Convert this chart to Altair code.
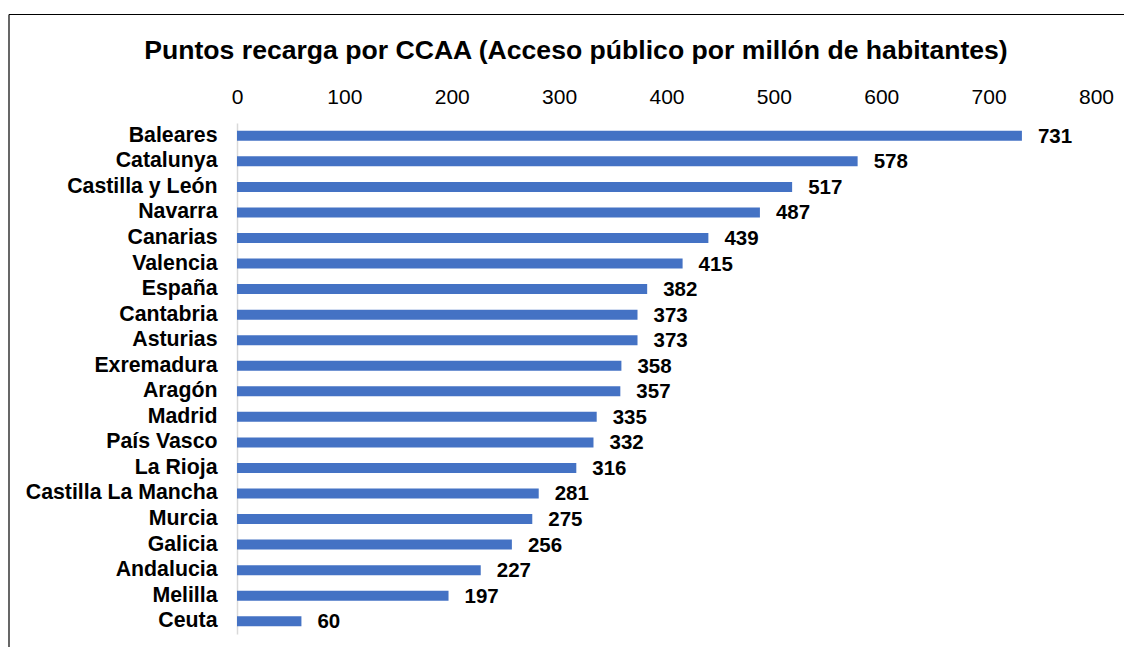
import altair as alt
import pandas as pd

regions = ["Baleares", "Catalunya", "Castilla y León", "Navarra", "Canarias",
           "Valencia", "España", "Cantabria", "Asturias", "Exremadura", "Aragón",
           "Madrid", "País Vasco", "La Rioja", "Castilla La Mancha", "Murcia",
           "Galicia", "Andalucia", "Melilla", "Ceuta"]
values = [731, 578, 517, 487, 439, 415, 382, 373, 373, 358, 357, 335, 332, 316,
          281, 275, 256, 227, 197, 60]
x_ticks = [0, 100, 200, 300, 400, 500, 600, 700, 800]
title_text = "Puntos recarga por CCAA (Acceso público por millón de habitantes)"

df = pd.DataFrame({"region": regions, "value": values})

FONT = "Liberation Sans"
W, H = 859, 511
PL, PT = 229, 115

y_enc = alt.Y("region:N", sort=regions, title=None,
              scale=alt.Scale(paddingInner=0, paddingOuter=0),
              axis=alt.Axis(ticks=False, domain=True, domainColor="#d9d9d9",
                            domainWidth=1.5, labelFont=FONT, labelFontSize=21.3,
                            labelFontWeight="bold", labelColor="#000000",
                            labelPadding=20, grid=False, labelLimit=400))
x_enc = alt.X("value:Q", title=None,
              scale=alt.Scale(domain=[0, 800], nice=False, zero=True),
              axis=alt.Axis(orient="top", values=x_ticks, ticks=False, tickSize=0,
                            domain=False, grid=False, labelFont=FONT,
                            labelFontSize=21, labelColor="#000000",
                            labelPadding=16, labelFlush=False))

bars = alt.Chart(df).mark_bar(color="#4472C4", size=10).encode(x=x_enc, y=y_enc)

labels = alt.Chart(df).mark_text(align="left", baseline="middle", dx=16, dy=1,
                                 font=FONT, fontSize=20.5, fontWeight="bold",
                                 color="#000000").encode(
    x=alt.X("value:Q"), y=alt.Y("region:N", sort=regions), text="value:Q")

title_df = pd.DataFrame({"t": [title_text]})
title = alt.Chart(title_df).mark_text(align="center", baseline="alphabetic",
                                      font=FONT, fontSize=26.6, fontWeight="bold",
                                      color="#000000").encode(
    x=alt.value(339), y=alt.value(-64), text="t:N")

border_top = alt.Chart(df.head(1)).mark_rule(color="#000000", strokeWidth=1.2).encode(
    x=alt.value(-228), x2=alt.value(900), y=alt.value(-108.5))
border_left = alt.Chart(df.head(1)).mark_rule(color="#000000", strokeWidth=1.2).encode(
    x=alt.value(-228), y=alt.value(-108.5), y2=alt.value(560))

chart = alt.layer(bars, labels, title, border_top, border_left).properties(
    width=W, height=H,
    padding={"left": PL, "top": PT, "right": 28, "bottom": 13},
    autosize=alt.AutoSizeParams(type="none"),
    background="#ffffff",
).configure_view(strokeWidth=0, stroke=None)

chart.save("out.html", embed_options={"renderer": "svg", "actions": False})
